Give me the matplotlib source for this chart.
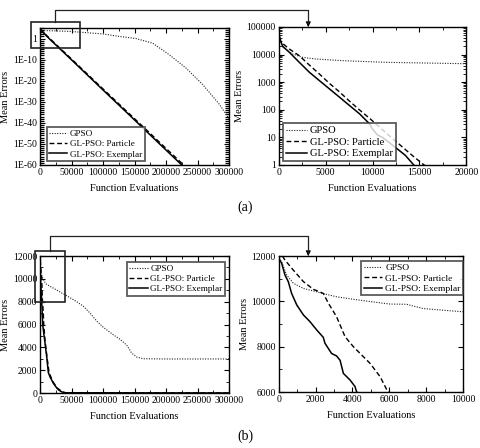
import numpy as np
import matplotlib
matplotlib.use('Agg')
import matplotlib.pyplot as plt
from matplotlib.ticker import FixedLocator, FuncFormatter, MultipleLocator, NullFormatter
from matplotlib.lines import Line2D
from matplotlib.patches import Rectangle, FancyArrowPatch

plt.rcParams['font.family'] = ['Liberation Serif', 'DejaVu Serif']

labels = ['GPSO', 'GL-PSO: Particle', 'GL-PSO: Exemplar']

# ---------- (a): mean errors, stored as log10 values ----------
a_gpso_x = [0, 100, 430, 1490, 2560, 3980, 6820, 11440, 20000, 46500, 99500,
            126000, 152400, 178800, 205300, 231700, 258200, 284700, 300000]
a_gpso_log = [4.75, 4.6, 4.27, 4.02, 3.9, 3.84, 3.78, 3.72, 3.67, 3.4, 2.2,
              1.0, 0.0, -2.2, -7.7, -14.0, -21.8, -31.2, -38.0]

a_part_x = [0, 250, 1140, 2200, 3270, 4330, 5400, 6470, 7530, 8600, 9660,
            10730, 12000, 13300, 14400, 15500, 50000, 100000, 150000, 200000, 228000]
a_part_log = [4.6, 4.45, 4.2, 3.96, 3.62, 3.3, 2.96, 2.65, 2.32, 2.0, 1.7,
              1.38, 1.0, 0.62, 0.3, 0.0, -9.7, -23.9, -38.0, -52.1, -60.0]

a_exem_x = [0, 70, 250, 430, 1140, 2200, 3270, 4330, 5400, 6470, 7530, 8600,
            9660, 10000, 10500, 11150, 12580, 13500, 14400, 50000, 100000,
            150000, 200000, 225000]
a_exem_log = [4.75, 4.69, 4.45, 4.3, 4.08, 3.72, 3.36, 3.06, 2.76, 2.46, 2.16,
              1.86, 1.5, 1.3, 1.1, 0.98, 0.6, 0.35, 0.0, -10.1, -24.4, -38.6,
              -52.9, -60.0]

# ---------- (b): mean errors (linear) ----------
b_gpso_x = [0, 160, 430, 790, 1340, 2240, 3140, 4050, 4960, 6040, 6940, 7850,
            8750, 10000, 15900, 31700, 47600, 58200, 68800, 79400, 90000,
            100500, 116400, 127000, 137600, 145500, 153400, 164000, 200000, 300000]
b_gpso_y = [11900, 11750, 11160, 10800, 10570, 10380, 10200, 10090, 9990, 9880,
            9870, 9680, 9620, 9540, 9350, 8850, 8350, 8000, 7600, 7000, 6300,
            5750, 5100, 4700, 4200, 3500, 3150, 3000, 2980, 2980]

b_part_x = [0, 200, 340, 790, 1340, 1880, 2420, 2700, 3140, 3600, 4050, 4960,
            5500, 5870, 8000, 11000, 14500, 21000, 27000, 35000, 40000, 300000]
b_part_y = [12300, 12000, 11820, 11380, 10870, 10530, 10350, 9910, 9320, 8440,
            8000, 7260, 6680, 6090, 4600, 3200, 1750, 950, 450, 120, 30, 0]

b_exem_x = [0, 160, 340, 520, 700, 980, 1340, 1700, 2060, 2420, 2510, 2870,
            3140, 3330, 3510, 3870, 4140, 4230, 8000, 10600, 13200, 16000,
            21200, 26500, 30000, 34400, 39700, 300000]
b_exem_y = [11900, 11680, 11160, 10870, 10350, 9840, 9400, 9100, 8740, 8410,
            8150, 7700, 7590, 7400, 6820, 6530, 6240, 6000, 4350, 3200, 1800,
            1400, 850, 450, 250, 100, 20, 0]

styles = [dict(ls=(0, (1, 1.3)), lw=0.8, color='#222222'),
          dict(ls=(0, (3.5, 2)), lw=1.0, color='black'),
          dict(ls='-', lw=1.1, color='black')]

W, H = 480, 448
fig = plt.figure(figsize=(W / 100, H / 100), dpi=100)


def px_axes(x0, y0, x1, y1):
    return fig.add_axes([x0 / W, 1 - y1 / H, (x1 - x0) / W, (y1 - y0) / H])


def style_axes(ax):
    ax.tick_params(which='both', direction='in', top=True, right=True,
                   labelsize=7, pad=2)
    ax.tick_params(which='major', length=3.5, width=0.8)
    ax.tick_params(which='minor', length=2, width=0.6)
    for s in ax.spines.values():
        s.set_linewidth(1.0)
    ax.set_xlabel('Function Evaluations', fontsize=7.5, labelpad=5)
    ax.set_ylabel('Mean Errors', fontsize=7.5, labelpad=2)


intfmt = FuncFormatter(lambda v, p: f"{int(round(v))}")


def add_legend(ax, fs=6.6, **kw):
    leg = ax.legend(fontsize=fs, frameon=True, fancybox=False, borderaxespad=0,
                    handlelength=2.0, handletextpad=0.3, labelspacing=0.2,
                    borderpad=0.25, **kw)
    leg.get_frame().set_edgecolor('#333333')
    leg.get_frame().set_linewidth(1.3)
    return leg


# ---- (a) left ----
ax1 = px_axes(40, 28, 229, 165)
for xs, ls_, lab, st in [(a_gpso_x, a_gpso_log, labels[0], styles[0]),
                         (a_part_x, a_part_log, labels[1], styles[1]),
                         (a_exem_x, a_exem_log, labels[2], styles[2])]:
    ax1.plot(xs, 10.0 ** np.array(ls_), label=lab, **st)
ax1.set_yscale('log')
ax1.set_xlim(0, 300000)
ax1.set_ylim(1e-60, 1e5)
ax1.yaxis.set_major_locator(FixedLocator(10.0 ** np.arange(-60, 1, 10)))
ax1.yaxis.set_major_formatter(FuncFormatter(
    lambda v, p: '1' if abs(np.log10(v)) < 0.5 else f"1E{int(round(np.log10(v)))}"))
ax1.yaxis.set_minor_locator(FixedLocator(10.0 ** np.arange(-60, 6)))
ax1.yaxis.set_minor_formatter(NullFormatter())
ax1.xaxis.set_major_locator(MultipleLocator(50000))
ax1.xaxis.set_minor_locator(MultipleLocator(25000))
ax1.xaxis.set_major_formatter(intfmt)
style_axes(ax1)
ax1.tick_params(axis='y', which='minor', length=3.2, width=0.9)
add_legend(ax1, loc='lower left', bbox_to_anchor=(0.035, 0.03))

# ---- (a) right ----
ax2 = px_axes(278.7, 27, 466.3, 165)
for xs, ls_, lab, st in [(a_gpso_x, a_gpso_log, labels[0], styles[0]),
                         (a_part_x, a_part_log, labels[1], styles[1]),
                         (a_exem_x, a_exem_log, labels[2], styles[2])]:
    ax2.plot(xs, 10.0 ** np.array(ls_), label=lab, **st)
ax2.set_yscale('log')
ax2.set_xlim(0, 20000)
ax2.set_ylim(1, 1e5)
ax2.yaxis.set_major_locator(FixedLocator(10.0 ** np.arange(0, 6)))
ax2.yaxis.set_major_formatter(intfmt)
ax2.yaxis.set_minor_formatter(NullFormatter())
ax2.xaxis.set_major_locator(MultipleLocator(5000))
ax2.xaxis.set_minor_locator(MultipleLocator(2500))
ax2.xaxis.set_major_formatter(intfmt)
style_axes(ax2)
add_legend(ax2, fs=7.6, loc='lower left', bbox_to_anchor=(0.023, 0.03))

# ---- (b) left ----
ax3 = px_axes(40, 256, 229, 393)
for xs, ys, lab, st in [(b_gpso_x, b_gpso_y, labels[0], styles[0]),
                        (b_part_x, b_part_y, labels[1], styles[1]),
                        (b_exem_x, b_exem_y, labels[2], styles[2])]:
    ax3.plot(xs, ys, label=lab, **st)
ax3.set_xlim(0, 300000)
ax3.set_ylim(0, 12000)
ax3.yaxis.set_major_locator(MultipleLocator(2000))
ax3.yaxis.set_minor_locator(MultipleLocator(1000))
ax3.xaxis.set_major_locator(MultipleLocator(50000))
ax3.xaxis.set_minor_locator(MultipleLocator(25000))
ax3.xaxis.set_major_formatter(intfmt)
ax3.yaxis.set_major_formatter(intfmt)
style_axes(ax3)
add_legend(ax3, loc='upper right', bbox_to_anchor=(0.979, 0.956))

# ---- (b) right ----
ax4 = px_axes(278.7, 256, 463, 392)
for xs, ys, lab, st in [(b_gpso_x, b_gpso_y, labels[0], styles[0]),
                        (b_part_x, b_part_y, labels[1], styles[1]),
                        (b_exem_x, b_exem_y, labels[2], styles[2])]:
    ax4.plot(xs, ys, label=lab, **st)
ax4.set_xlim(0, 10000)
ax4.set_ylim(6000, 12000)
ax4.yaxis.set_major_locator(MultipleLocator(2000))
ax4.yaxis.set_minor_locator(MultipleLocator(1000))
ax4.xaxis.set_major_locator(MultipleLocator(2000))
ax4.xaxis.set_minor_locator(MultipleLocator(1000))
ax4.xaxis.set_major_formatter(intfmt)
ax4.yaxis.set_major_formatter(intfmt)
style_axes(ax4)
add_legend(ax4, fs=6.8, loc='upper right', bbox_to_anchor=(1.0, 0.963))


# ---- zoom rectangles and connectors (figure pixel coords) ----
def fx(x):
    return x / W


def fy(y):
    return 1 - y / H


def rect(x0, y0, x1, y1):
    fig.add_artist(Rectangle((fx(x0), fy(y1)), fx(x1) - fx(x0), fy(y0) - fy(y1),
                             transform=fig.transFigure, fill=False,
                             edgecolor='#222222', lw=1.2))


def connector(xa, ya, ytop, xb, yb):
    fig.add_artist(Line2D([fx(xa), fx(xa), fx(xb), fx(xb)],
                          [fy(ya), fy(ytop), fy(ytop), fy(yb - 4)],
                          transform=fig.transFigure, color='#222222', lw=0.9))
    fig.add_artist(FancyArrowPatch(
        (fx(xb), fy(yb - 5)), (fx(xb), fy(yb)), transform=fig.transFigure,
        arrowstyle='-|>', mutation_scale=7, color='black', lw=0.8))


rect(31, 22, 80, 48)
connector(55, 22, 10, 308.3, 27)
rect(35, 250.7, 65.3, 302)
connector(50, 250.7, 236, 308.3, 256)

fig.text(fx(245), fy(207), '(a)', fontsize=10, ha='center', va='center')
fig.text(fx(245), fy(436), '(b)', fontsize=10, ha='center', va='center')

fig.savefig('out.png', dpi=100)
